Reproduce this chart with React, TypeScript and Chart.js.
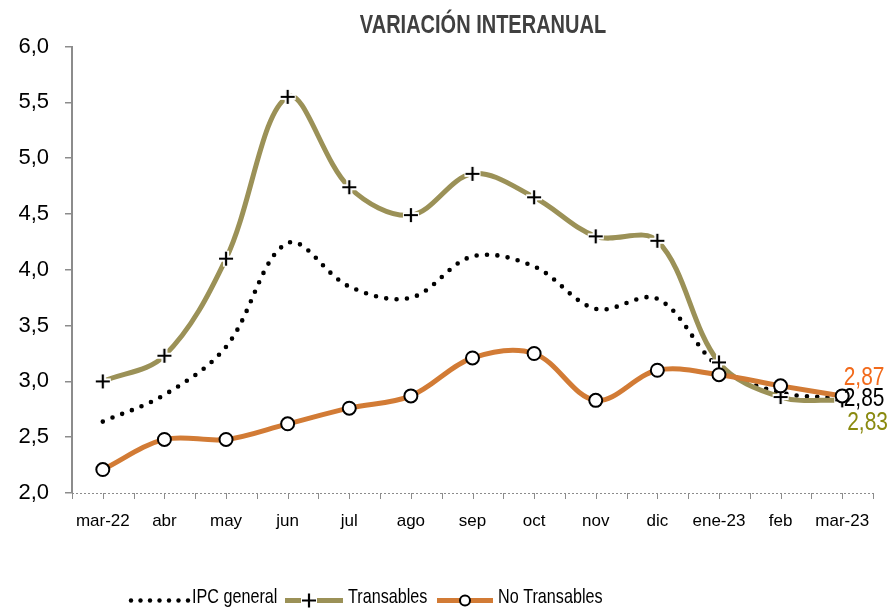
import React, { useEffect, useRef } from "react";
import { Chart, registerables } from "chart.js";

Chart.register(...registerables);

// ---------- data ----------
const categories = ["mar-22", "abr", "may", "jun", "jul", "ago", "sep", "oct", "nov", "dic", "ene-23", "feb", "mar-23"];
const ipcGeneral = [2.64, 2.88, 3.31, 4.24, 3.85, 3.75, 4.12, 4.03, 3.65, 3.74, 3.13, 2.9, 2.85];
const transables = [3.0, 3.23, 4.1, 5.55, 4.74, 4.49, 4.86, 4.65, 4.3, 4.26, 3.17, 2.86, 2.83];
const noTransables = [2.21, 2.48, 2.48, 2.62, 2.76, 2.87, 3.21, 3.25, 2.83, 3.1, 3.06, 2.96, 2.87];
const yTickValues = [2.0, 2.5, 3.0, 3.5, 4.0, 4.5, 5.0, 5.5, 6.0];
const seriesNames = ["IPC general", "Transables", "No Transables"];
const chartTitle = "VARIACIÓN INTERANUAL";

// ---------- styles ----------
const W = 892;
const H = 609;
const FONT = "'Liberation Sans', Arial, sans-serif";
const OLIVE = "#9b9157";
const ORANGE = "#d27b35";
const AXIS_GRAY = "#8c8c8c";

const fmt = (v: number, d: number) => v.toFixed(d).replace(".", ",");

function makePlus(halo: boolean): HTMLCanvasElement {
  const c = document.createElement("canvas");
  c.width = 20;
  c.height = 20;
  const ctx = c.getContext("2d")!;
  if (halo) {
    ctx.strokeStyle = "#ffffff";
    ctx.lineWidth = 6;
    ctx.beginPath();
    ctx.moveTo(2, 10);
    ctx.lineTo(18, 10);
    ctx.moveTo(10, 2);
    ctx.lineTo(10, 18);
    ctx.stroke();
  }
  ctx.strokeStyle = "#000000";
  ctx.lineWidth = 2.2;
  ctx.beginPath();
  ctx.moveTo(3, 10);
  ctx.lineTo(17, 10);
  ctx.moveTo(10, 3);
  ctx.lineTo(10, 17);
  ctx.stroke();
  return c;
}

function narrowText(ctx: CanvasRenderingContext2D, text: string, x: number, y: number, font: string, sx: number, align: CanvasTextAlign, color: string) {
  ctx.save();
  ctx.translate(x, y);
  ctx.scale(sx, 1);
  ctx.font = font;
  ctx.fillStyle = color;
  ctx.textAlign = align;
  ctx.textBaseline = "alphabetic";
  ctx.fillText(text, 0, 0);
  ctx.restore();
}

export default function App() {
  const ref = useRef<HTMLCanvasElement | null>(null);

  useEffect(() => {
    document.body.style.margin = "0";
    const canvas = ref.current;
    if (!canvas) return;
    const plusImg = makePlus(true);
    const plusLegend = makePlus(true);

    const endLabels = [
      { data: noTransables, color: "#f26a1b", dx: 1.5, dy: -11 },
      { data: ipcGeneral, color: "#000000", dx: 1.5, dy: 8 },
      { data: transables, color: "#8a8a0f", dx: 5, dy: 29.5 },
    ];

    const decor = {
      id: "decor",
      beforeDatasetsDraw(chart: any) {
        const { ctx, chartArea, scales } = chart;
        const x = scales.x;
        ctx.save();
        ctx.strokeStyle = AXIS_GRAY;
        ctx.lineWidth = 1;
        ctx.setLineDash([2, 2]);
        ctx.beginPath();
        ctx.moveTo(chartArea.left, Math.round(chartArea.bottom) + 0.5);
        ctx.lineTo(chartArea.right, Math.round(chartArea.bottom) + 0.5);
        ctx.stroke();
        ctx.setLineDash([]);
        const n = categories.length;
        ctx.beginPath();
        for (let i = 0; i <= 2 * n; i++) {
          const px = Math.round(x.getPixelForValue(i / 2 - 0.5)) + 0.5;
          ctx.moveTo(px, chartArea.bottom);
          ctx.lineTo(px, chartArea.bottom + 6);
        }
        ctx.stroke();
        ctx.restore();
      },
      afterDraw(chart: any) {
        const { ctx, scales } = chart;
        const x = scales.x;
        const y = scales.y;
        // title
        narrowText(ctx, chartTitle, 483, 32.5, `bold 25px ${FONT}`, 0.8, "center", "#404040");
        // end labels
        const lastIdx = categories.length - 1;
        const lx = x.getPixelForValue(lastIdx);
        endLabels.forEach((l) => {
          const v = l.data[lastIdx];
          narrowText(ctx, fmt(v, 2), lx + l.dx, y.getPixelForValue(v) + l.dy, `25.5px ${FONT}`, 0.82, "left", l.color);
        });
        // legend
        const ly = 600.5;
        const base = 602.7;
        const lfont = `21px ${FONT}`;
        const lsx = 0.77;
        ctx.save();
        ctx.fillStyle = "#000";
        for (let k = 0; k < 7; k++) {
          ctx.beginPath();
          ctx.arc(131 + k * 9.5, ly, 2.2, 0, Math.PI * 2);
          ctx.fill();
        }
        ctx.restore();
        narrowText(ctx, seriesNames[0], 192, base, lfont, lsx, "left", "#000");

        ctx.save();
        ctx.strokeStyle = OLIVE;
        ctx.lineWidth = 5;
        ctx.beginPath();
        ctx.moveTo(285, ly);
        ctx.lineTo(343, ly);
        ctx.stroke();
        ctx.drawImage(plusLegend, 309 - 10, ly - 10);
        ctx.restore();
        narrowText(ctx, seriesNames[1], 348, base, lfont, lsx, "left", "#000");

        ctx.save();
        ctx.strokeStyle = ORANGE;
        ctx.lineWidth = 5;
        ctx.beginPath();
        ctx.moveTo(437, ly);
        ctx.lineTo(493, ly);
        ctx.stroke();
        ctx.beginPath();
        ctx.arc(465, ly, 5, 0, Math.PI * 2);
        ctx.fillStyle = "#fff";
        ctx.fill();
        ctx.lineWidth = 2;
        ctx.strokeStyle = "#000";
        ctx.stroke();
        ctx.restore();
        narrowText(ctx, seriesNames[2], 498, base, lfont, lsx, "left", "#000");
      },
    };

    const chart = new Chart(canvas, {
      type: "line",
      data: {
        labels: categories,
        datasets: [
          {
            label: seriesNames[0],
            data: ipcGeneral,
            borderColor: "#000000",
            borderWidth: 4.6,
            borderDash: [0, 10.4],
            borderCapStyle: "round",
            pointRadius: 0,
            tension: 0.35,
            order: 3,
          },
          {
            label: seriesNames[1],
            data: transables,
            borderColor: OLIVE,
            borderWidth: 5,
            pointStyle: plusImg as any,
            pointRadius: 8,
            tension: 0.35,
            order: 2,
          },
          {
            label: seriesNames[2],
            data: noTransables,
            borderColor: ORANGE,
            borderWidth: 5,
            pointStyle: "circle",
            pointRadius: 6.5,
            pointBackgroundColor: "#ffffff",
            pointBorderColor: "#000000",
            pointBorderWidth: 2,
            tension: 0.35,
            order: 1,
          },
        ],
      },
      options: {
        responsive: false,
        animation: false,
        events: [],
        layout: { padding: { left: 0, right: 19, top: 46.6, bottom: 0 } },
        plugins: {
          legend: { display: false },
          title: { display: false },
          tooltip: { enabled: false },
        },
        scales: {
          x: {
            type: "category",
            offset: true,
            grid: { display: false, drawTicks: false },
            border: { display: false },
            ticks: {
              color: "#000",
              font: { family: FONT, size: 17 },
              padding: 18,
              maxRotation: 0,
              autoSkip: false,
            },
            afterFit: (s: any) => {
              s.height = H - 493;
            },
          },
          y: {
            min: 2,
            max: 6,
            afterBuildTicks: (s: any) => {
              s.ticks = yTickValues.map((v) => ({ value: v }));
            },
            grid: { drawOnChartArea: false, drawTicks: true, tickLength: 7, color: AXIS_GRAY, lineWidth: 1.5 },
            border: { color: AXIS_GRAY, width: 2 },
            ticks: {
              color: "#000",
              font: { family: FONT, size: 22 },
              padding: 16,
              callback: (v: any) => fmt(Number(v), 1),
            },
            afterFit: (s: any) => {
              s.width = 72;
            },
          },
        },
      },
      plugins: [decor],
    });
    return () => chart.destroy();
  }, []);

  return (
    <div style={{ width: W, height: H, position: "relative", background: "#fff" }}>
      <canvas ref={ref} width={W} height={H} style={{ display: "block" }} />
    </div>
  );
}
